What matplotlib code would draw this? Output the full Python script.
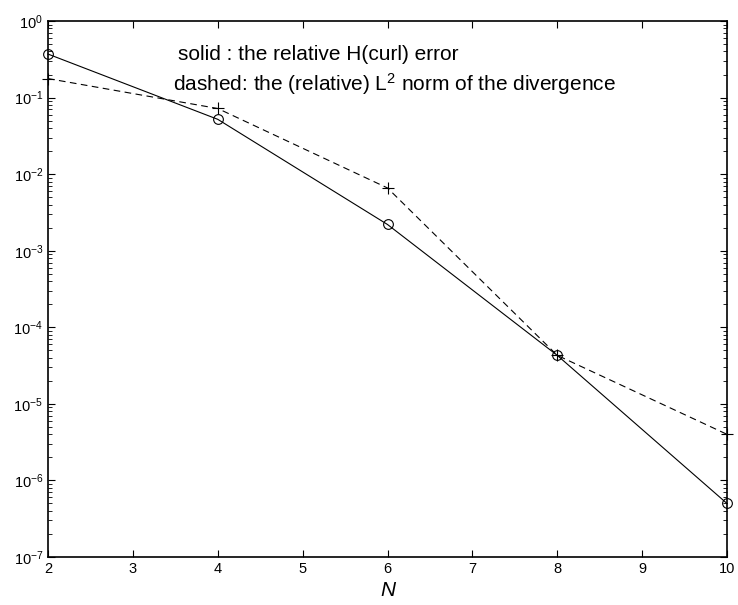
import numpy as np
import matplotlib.pyplot as plt
from matplotlib.ticker import LogLocator, NullFormatter

plt.rcParams['font.family'] = ['Liberation Sans', 'DejaVu Sans']
plt.rcParams['mathtext.fontset'] = 'custom'
plt.rcParams['mathtext.rm'] = 'Liberation Sans'
plt.rcParams['mathtext.it'] = 'Liberation Sans:italic'

N = [2, 4, 6, 8, 10]
hcurl_err = [0.37, 0.052, 0.0022, 4.3e-5, 5.0e-7]
div_norm = [0.177, 0.072, 0.0066, 4.3e-5, 4.0e-6]

fig = plt.figure(figsize=(7.38, 6.05), dpi=100)
ax = fig.add_axes([48/738, 48/605, 679/738, 536/605])

ax.semilogy(N, hcurl_err, 'k-o', lw=0.8, ms=7, mfc='none', mew=0.8, clip_on=False)
ax.semilogy(N, div_norm, 'k--+', lw=0.8, ms=8, mew=0.8, dashes=(6, 4), clip_on=False)

ax.set_xlim(2, 10)
ax.set_ylim(1e-7, 1e0)
ax.set_xticks(range(2, 11))
ax.yaxis.set_major_locator(LogLocator(base=10, numticks=10))
ax.yaxis.set_minor_locator(LogLocator(base=10, subs=np.arange(2, 10), numticks=20))
ax.yaxis.set_minor_formatter(NullFormatter())
ax.tick_params(which='both', direction='in', top=True, right=True, labelsize=10.5)
ax.tick_params(which='major', length=5, width=0.8)
ax.tick_params(which='minor', length=3, width=0.6)
for s in ax.spines.values():
    s.set_linewidth(1.2)

ax.set_xlabel('N', fontsize=15, style='italic', labelpad=4)

ax.text(3.53, 0.31, 'solid : the relative H(curl) error', fontsize=15)
ax.text(3.47, 0.122, r'dashed: the (relative) L$^2$ norm of the divergence', fontsize=15)

fig.savefig('out.png', dpi=100)
